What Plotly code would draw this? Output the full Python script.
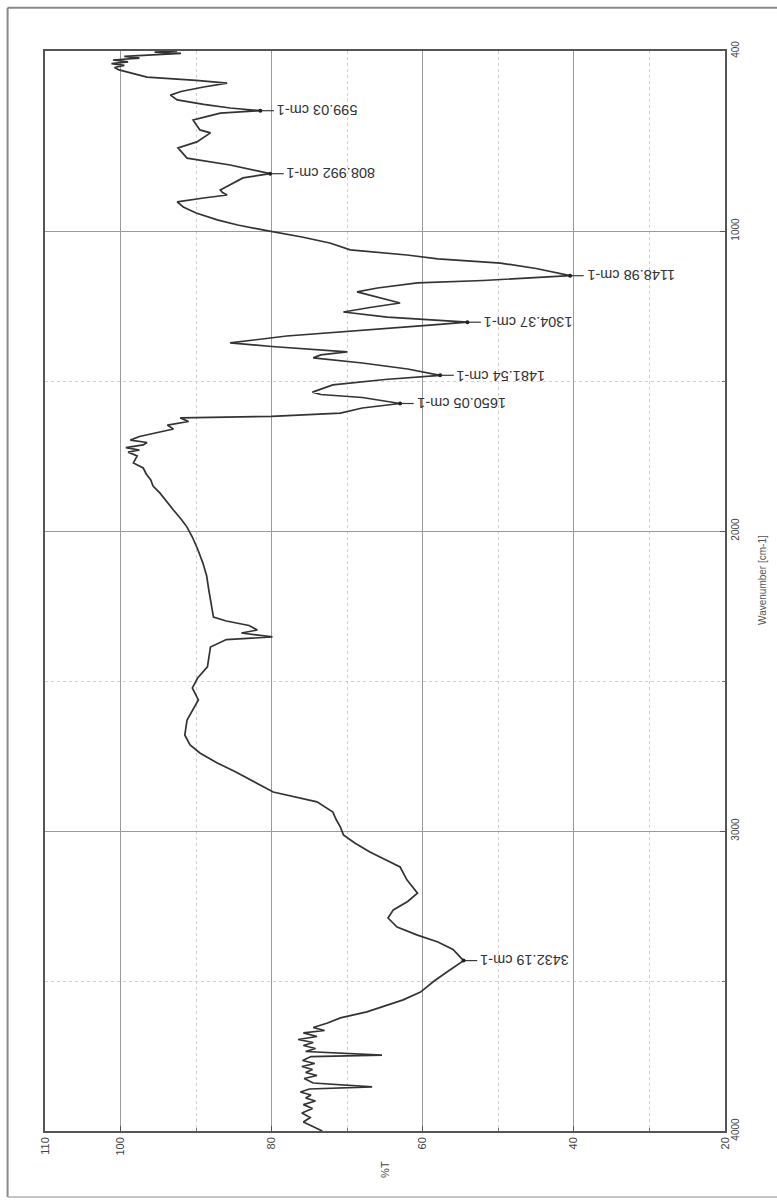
import plotly.graph_objects as go

# ---- data ----
wavenumber = [400, 404, 408, 412, 418, 424, 430, 436, 442, 448, 455, 463, 475, 487, 498, 507,
              520, 535, 547, 563, 578, 590, 599, 607, 618, 630, 645, 663, 673, 688, 703, 723,
              740, 757, 780, 795, 809, 823, 845, 863, 872, 880, 890, 903, 920, 940, 963, 980,
              997, 1020, 1040, 1063, 1080, 1093, 1107, 1125, 1149, 1165, 1173, 1190, 1203, 1220,
              1240, 1255, 1270, 1287, 1304, 1313, 1330, 1350, 1373, 1385, 1403, 1413, 1423, 1440,
              1460, 1481, 1495, 1513, 1537, 1545, 1555, 1575, 1590, 1607, 1618, 1623, 1635, 1647,
              1660, 1673, 1685, 1697, 1705, 1713, 1722, 1730, 1737, 1750, 1773, 1790, 1810, 1830,
              1850, 1873, 1900, 1930, 1960, 1987, 2020, 2060, 2107, 2150, 2200, 2250, 2287, 2300,
              2315, 2330, 2340, 2353, 2362, 2387, 2420, 2453, 2490, 2523, 2563, 2600, 2630, 2680,
              2713, 2740, 2773, 2800, 2830, 2870, 2903, 2937, 2960, 2987, 3013, 3040, 3070, 3095,
              3120, 3163, 3207, 3235, 3263, 3290, 3320, 3347, 3370, 3395, 3432, 3470, 3500, 3537,
              3563, 3603, 3623, 3640, 3655, 3665, 3673, 3685, 3695, 3705, 3715, 3725, 3735, 3747,
              3752, 3765, 3775, 3785, 3795, 3805, 3815, 3825, 3840, 3853, 3860, 3870, 3880, 3890,
              3900, 3912, 3925, 3940, 3955, 3970, 3985, 4000]
transmittance = [92.5, 95.5, 92.0, 96.0, 99.5, 97.5, 101.0, 99.0, 101.2, 99.5, 100.8, 100.2, 98.5, 96.5, 90.0, 85.9,
                 89.0, 92.0, 93.4, 92.5, 89.0, 85.5, 81.5, 86.8, 88.5, 90.4, 90.0, 89.5, 88.1, 89.0, 89.9, 92.4,
                 91.8, 91.2, 85.5, 82.5, 80.2, 83.8, 85.5, 86.8, 86.5, 85.9, 89.0, 92.5, 91.7, 90.0, 87.2, 84.5,
                 81.0, 76.0, 72.3, 69.6, 62.1, 58.0, 49.7, 45.0, 40.5, 52.0, 60.7, 66.0, 68.7, 66.0,
                 63.0, 67.0, 70.5, 64.7, 54.1, 58.6, 68.0, 78.0, 85.5, 80.0, 70.0, 73.5, 74.5, 68.0,
                 62.0, 57.7, 65.0, 71.9, 74.6, 73.5, 68.0, 63.0, 68.0, 70.9, 80.0, 92.1, 91.0, 93.8,
                 93.0, 95.2, 97.5, 98.7, 96.5, 97.0, 99.3, 97.5, 99.0, 97.8, 98.3, 97.0, 96.6, 96.0,
                 95.7, 94.8, 94.0, 93.0, 92.0, 91.2, 90.5, 89.8, 89.1, 88.6, 88.3, 88.0, 87.7, 86.0,
                 83.0, 81.9, 84.0, 79.9, 86.0, 88.1, 88.3, 88.5, 89.8, 90.5, 89.7, 90.5, 91.2, 91.5,
                 90.8, 89.5, 87.2, 85.0, 82.8, 79.8, 74.0, 71.9, 71.5, 70.9, 70.5, 69.0, 67.0, 65.0,
                 63.0, 62.1, 60.7, 62.0, 63.9, 64.6, 63.4, 60.7, 58.0, 56.0, 54.6, 56.8, 58.5, 60.3,
                 62.6, 67.4, 70.9, 72.6, 74.5, 73.0, 75.8, 74.0, 76.5, 74.5, 75.8, 74.2, 75.5, 65.4,
                 74.8, 75.9, 74.3, 76.0, 74.6, 75.5, 74.0, 75.7, 74.5, 66.7, 75.0, 76.2, 74.8, 75.5,
                 74.2, 75.8, 74.6, 76.0, 74.9, 75.8, 74.5, 73.3]

peak_positions = [599, 809, 1149, 1304, 1481, 1575, 3432]
peak_labels = ["599.03 cm-1", "808.992 cm-1", "1148.98 cm-1", "1304.37 cm-1",
               "1481.54 cm-1", "1650.05 cm-1", "3432.19 cm-1"]

x_ticks = [110, 100, 80, 60, 40, 20]
x_minor = [90, 70, 50, 30]
y_ticks = [400, 1000, 2000, 3000, 4000]
y_minor = [1500, 2500, 3500]

FONT = "Liberation Sans, Arial, sans-serif"
lookup = dict(zip(wavenumber, transmittance))

fig = go.Figure()
fig.add_trace(go.Scatter(x=transmittance, y=wavenumber, mode="lines",
                         line=dict(color="#333333", width=1.7), hoverinfo="skip"))

# peak leader lines, markers and labels
for wn, lab in zip(peak_positions, peak_labels):
    t = lookup[wn]
    fig.add_trace(go.Scatter(x=[t, t - 1.8], y=[wn, wn], mode="lines",
                             line=dict(color="#3a3a3a", width=1.2), hoverinfo="skip"))
    fig.add_trace(go.Scatter(x=[t], y=[wn], mode="markers",
                             marker=dict(color="#222", size=4), hoverinfo="skip"))
    fig.add_annotation(x=t - 1.9, y=wn, text=lab, showarrow=False, textangle=180,
                       xanchor="left", yanchor="middle",
                       font=dict(family=FONT, size=14.5, color="#333"))

# axis titles (rotated like the scanned page)
fig.add_annotation(xref="paper", yref="paper", x=0.5, y=-0.036, text="%T",
                   showarrow=False, textangle=-90, xanchor="center", yanchor="middle",
                   font=dict(family=FONT, size=11, color="#444"))
fig.add_annotation(xref="paper", yref="paper", x=1.054, y=0.51, text="Wavenumber [cm-1]",
                   showarrow=False, textangle=-90, xanchor="center", yanchor="middle",
                   font=dict(family=FONT, size=10, color="#555"))

# outer page frame: top, left and bottom edges of the scanned sheet
frame = dict(color="#8a8a8a", width=2)
fig.add_shape(type="line", xref="paper", yref="paper", x0=-0.055, x1=1.1, y0=1.04, y1=1.04,
              line=frame, layer="below")
fig.add_shape(type="line", xref="paper", yref="paper", x0=-0.055, x1=-0.055, y0=-0.061, y1=1.04,
              line=frame, layer="below")
fig.add_shape(type="line", xref="paper", yref="paper", x0=-0.055, x1=1.1, y0=-0.061, y1=-0.061,
              line=dict(color="#b0b0b0", width=1.5), layer="below")

fig.update_layout(
    width=777, height=1203,
    margin=dict(l=45, r=52, t=51, b=72),
    paper_bgcolor="white", plot_bgcolor="white",
    showlegend=False,
    xaxis=dict(range=[110, 20], tickvals=x_ticks, ticktext=[str(v) for v in x_ticks],
               tickangle=-90, showline=True, mirror=True, linecolor="#555", linewidth=1.5,
               showgrid=True, gridcolor="#9a9a9a", gridwidth=1, zeroline=False,
               ticks="inside", ticklen=5, tickcolor="#555",
               tickfont=dict(family=FONT, size=11, color="#444"),
               minor=dict(tickvals=x_minor, showgrid=True, gridcolor="#d0d0d0",
                          griddash="dot", ticks="inside", ticklen=3, tickcolor="#777")),
    yaxis=dict(range=[4000, 400], side="right", tickvals=y_ticks,
               ticktext=[str(v) for v in y_ticks], tickangle=-90,
               showline=True, mirror=True, linecolor="#555", linewidth=1.5,
               showgrid=True, gridcolor="#9a9a9a", gridwidth=1, zeroline=False,
               ticks="inside", ticklen=5, tickcolor="#555",
               tickfont=dict(family=FONT, size=10, color="#444"),
               minor=dict(tickvals=y_minor, showgrid=True, gridcolor="#d0d0d0",
                          griddash="dot", ticks="inside", ticklen=3, tickcolor="#777")),
)

fig.write_html("out.html", config={"displayModeBar": False},
               post_script="document.body.style.margin='0';document.body.style.overflow='hidden';")
